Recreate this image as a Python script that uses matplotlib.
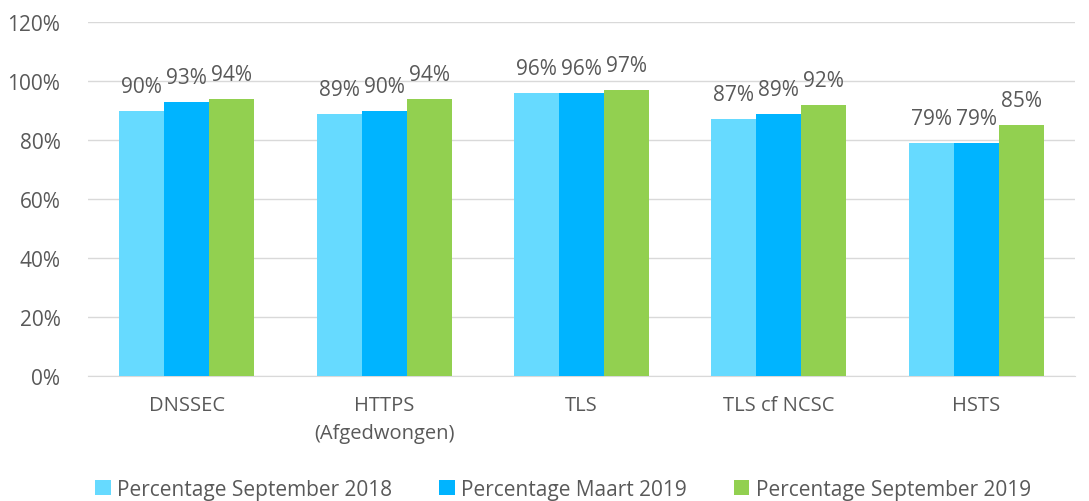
import numpy as np
import matplotlib.pyplot as plt

plt.rcParams['font.family'] = ['Open Sans', 'DejaVu Sans']

categories = ['DNSSEC', 'HTTPS\n(Afgedwongen)', 'TLS', 'TLS cf NCSC', 'HSTS']
series_names = ['Percentage September 2018', 'Percentage Maart 2019', 'Percentage September 2019']
sep2018 = [90, 89, 96, 87, 79]
mrt2019 = [93, 90, 96, 89, 79]
sep2019 = [94, 94, 97, 92, 85]
colors = ['#66DAFF', '#00B4FF', '#92D050']

fig = plt.figure(figsize=(10.89, 5.02), dpi=100)
ax = fig.add_axes([0.081, 0.249, 0.906, 0.705])

x = np.arange(len(categories))
w = 0.228
text_col = '#595959'
for i, (vals, name, c) in enumerate(zip([sep2018, mrt2019, sep2019], series_names, colors)):
    pos = x + (i - 1) * w
    ax.bar(pos, vals, width=w, color=c, label=name, zorder=3)
    for p, v in zip(pos, vals):
        ax.text(p, v + 8.3, f'{v}%', ha='center', va='center', fontsize=15, color=text_col, zorder=4)

ax.set_xlim(-0.5, len(categories) - 0.5)
ax.set_ylim(0, 120)
ax.set_yticks(range(0, 121, 20))
ax.set_yticklabels([f'{t}%' for t in range(0, 121, 20)])
ax.set_xticks(x)
ax.set_xticklabels(categories, linespacing=1.5)
ax.tick_params(axis='both', length=0, labelsize=14.5, colors=text_col)
ax.tick_params(axis='x', pad=14)
ax.tick_params(axis='y', pad=20, labelsize=15)
ax.yaxis.grid(True, color='#D9D9D9', linewidth=1, zorder=0)
for s in ['top', 'right', 'left']:
    ax.spines[s].set_visible(False)
ax.spines['bottom'].set_color('#D9D9D9')

fig.legend(loc='lower center', bbox_to_anchor=(0.517, -0.035), ncol=3, frameon=False,
           fontsize=15, labelcolor=text_col, handlelength=0.75, handleheight=0.75,
           handletextpad=0.3, columnspacing=2.25)

fig.savefig('out.png', dpi=100)
